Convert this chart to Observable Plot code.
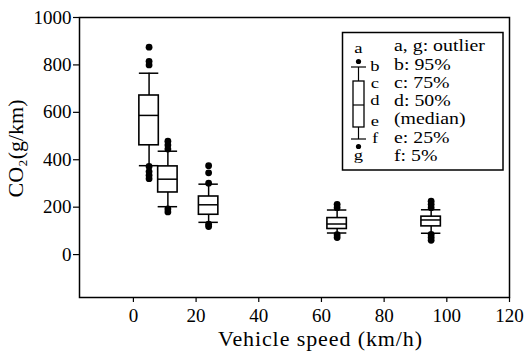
<!DOCTYPE html>
<html><head><meta charset="utf-8">
<script src="https://cdn.jsdelivr.net/npm/d3@7"></script>
<script src="https://cdn.jsdelivr.net/npm/@observablehq/plot@0.6"></script>
<style>body{margin:0;background:#fff}#chart{width:524px;height:361px}</style>
</head><body><div id="chart"></div>
<script>
// Vehicle speed (km/h) of each box
const speeds = [5, 11, 24, 65, 95];
// percentiles of CO2 (g/km)
const p5  = [375, 202, 136, 91, 90];
const p25 = [461, 262, 168, 108, 119];
const p50 = [587, 318, 210, 129, 146];
const p75 = [671, 372, 245, 154, 160];
const p95 = [765, 436, 297, 188, 189];
// outliers per box
const outliers = [
  [875, 815, 800, 372, 350, 335, 320],
  [478, 462, 445, 193, 180],
  [375, 345, 301, 128, 118],
  [212, 198, 84, 72],
  [225, 212, 198, 85, 72, 60]
];
const xTicks = [0, 20, 40, 60, 80, 100, 120];
const yTicks = [0, 200, 400, 600, 800, 1000];
const xTitle = "Vehicle speed (km/h)";
const yTitle = "CO\u2082(g/km)";
const legendLines = ["a, g: outlier", "b: 95%", "c: 75%", "d: 50%", "(median)", "e: 25%", "f: 5%"];

const boxes = speeds.map((s, i) => ({s, p5: p5[i], p25: p25[i], p50: p50[i], p75: p75[i], p95: p95[i]}));
const outs = speeds.flatMap((s, i) => outliers[i].map(v => ({s, v})));
const hw = 3.1;
const serif = "'Liberation Serif', 'Times New Roman', serif";

const chart = Plot.plot({
  width: 524, height: 361,
  marginLeft: 79, marginRight: 15, marginTop: 17, marginBottom: 64,
  style: `font-family: ${serif}; font-size: 19px; color: black; background: white;`,
  x: {domain: [-17.2, 120]},
  y: {domain: [-181, 1000]},
  marks: [
    Plot.ruleX(boxes, {x: "s", y1: "p5", y2: "p95", stroke: "black", strokeWidth: 1.5}),
    Plot.rect(boxes, {x1: d => d.s - hw, x2: d => d.s + hw, y1: "p25", y2: "p75", fill: "white", stroke: "black", strokeWidth: 1.6}),
    Plot.ruleY(boxes, {y: "p50", x1: d => d.s - hw, x2: d => d.s + hw, stroke: "black", strokeWidth: 1.5}),
    Plot.ruleY(boxes, {y: "p95", x1: d => d.s - hw, x2: d => d.s + hw, stroke: "black", strokeWidth: 1.5}),
    Plot.ruleY(boxes, {y: "p5", x1: d => d.s - hw, x2: d => d.s + hw, stroke: "black", strokeWidth: 1.5}),
    Plot.dot(outs, {x: "s", y: "v", r: 3.4, fill: "black", stroke: null}),
    Plot.frame({stroke: "black", strokeWidth: 1.5}),
    Plot.axisX({ticks: xTicks, tickSize: 5, tickPadding: 6, tickFormat: d3.format("d"), label: null, stroke: "black", strokeWidth: 1.2, fontFamily: serif, fontSize: 19}),
    Plot.axisY({ticks: yTicks, tickSize: 6, tickPadding: 2, tickFormat: d3.format("d"), label: null, stroke: "black", strokeWidth: 1.2, fontFamily: serif, fontSize: 19}),
    Plot.text([xTitle], {frameAnchor: "bottom", textAnchor: "middle", dx: 26, dy: 48, fontSize: 22, fontFamily: serif, fill: "black", className: "xtitle"}),
    Plot.text([yTitle], {frameAnchor: "left", textAnchor: "middle", rotate: -90, dx: -64, dy: -9, fontSize: 22, fontFamily: serif, fill: "black"})
  ]
});
document.getElementById("chart").appendChild(chart);
const svg = d3.select(chart);
svg.selectAll(".xtitle text").style("letter-spacing", "0.9px");

// legend (explanatory key)
const g = svg.append("g").attr("font-family", serif).attr("font-size", 16).attr("fill", "black").attr("text-anchor", "start");
g.append("rect").attr("x", 342.5).attr("y", 32.5).attr("width", 160.5).attr("height", 137.5).attr("fill", "white").attr("stroke", "black").attr("stroke-width", 1.5);
g.append("line").attr("x1", 358.5).attr("x2", 358.5).attr("y1", 67).attr("y2", 139).attr("stroke", "black").attr("stroke-width", 1.2);
g.append("rect").attr("x", 353).attr("y", 81).attr("width", 11).attr("height", 46).attr("fill", "white").attr("stroke", "black").attr("stroke-width", 1.3);
for (const y of [67, 105, 139]) g.append("line").attr("x1", y === 105 ? 353 : 351).attr("x2", y === 105 ? 364 : 366).attr("y1", y).attr("y2", y).attr("stroke", "black").attr("stroke-width", 1.2);
for (const y of [61.5, 146.5]) g.append("circle").attr("cx", 358.5).attr("cy", y).attr("r", 2.6).attr("fill", "black");
const sx = 1.24;
const letters = [["a", 358.5, 48], ["b", 375, 66], ["c", 375, 83], ["d", 375, 100], ["e", 375, 121], ["f", 375, 138], ["g", 358.5, 155]];
for (const [t, x, y] of letters) g.append("text").attr("transform", `translate(${x},${y}) scale(${sx},1)`).attr("font-size", 15).attr("dy", "0.35em").attr("text-anchor", "middle").text(t);
const ly = [45, 64, 82, 100, 118, 137, 155];
legendLines.forEach((t, i) => g.append("text").attr("transform", `translate(394,${ly[i]}) scale(${sx},1)`).attr("dy", "0.35em").attr("text-anchor", "start").text(t));
</script></body></html>
